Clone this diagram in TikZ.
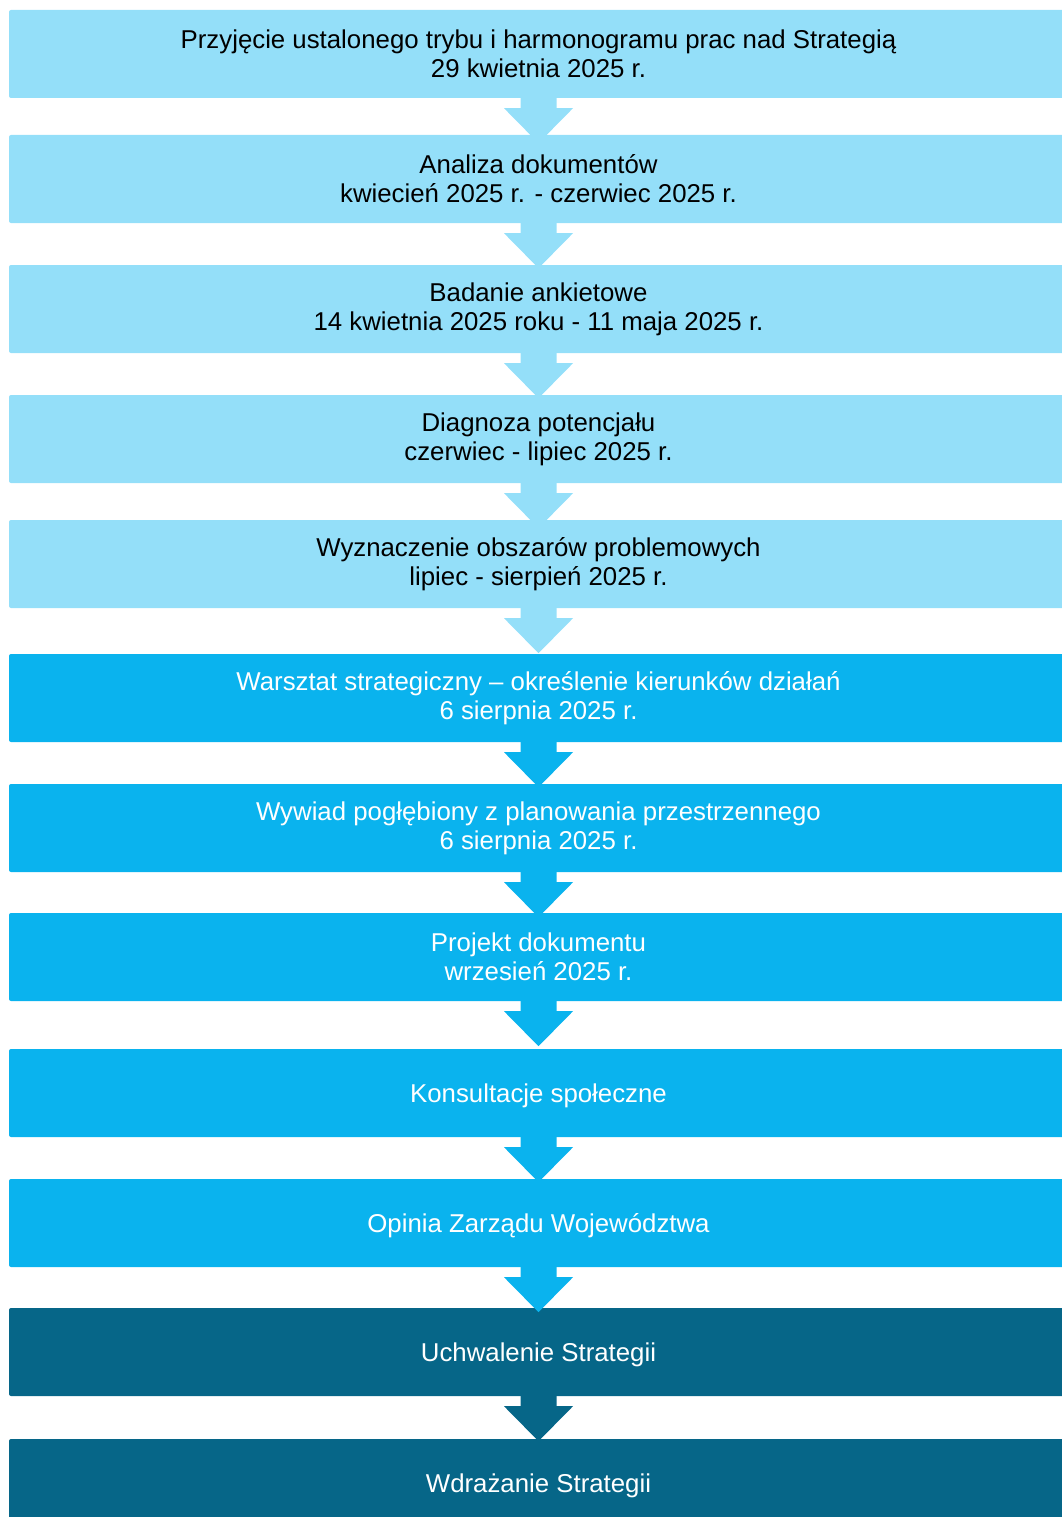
\documentclass[tikz,border=0pt]{standalone}
\usepackage{fontspec}
\setmainfont{Liberation Sans}
\usetikzlibrary{calc}
\definecolor{lightb}{HTML}{94DFF9}
\definecolor{midb}{HTML}{0AB3EE}
\definecolor{darkb}{HTML}{066688}
\tikzset{
  box/.style={minimum width=1059pt, minimum height=88pt, inner sep=0pt, rounded corners=2pt, align=center, font=\fontsize{25.8}{29}\selectfont},
  lbox/.style={box, fill=lightb, text=black},
  mbox/.style={box, fill=midb, text=white},
  dbox/.style={box, fill=darkb, text=white},
}
\newcommand{\lowered}[1]{\raisebox{-3pt}[\height][\depth]{#1}}
\newcommand{\downarr}[2]{%
  \fill[#2] ($(#1.south)+(-18,-3)$) -- ($(#1.south)+(18,-3)$) -- ($(#1.south)+(18,10)$) -- ($(#1.south)+(34.5,10)$) -- ($(#1.south)+(0,45)$) -- ($(#1.south)+(-34.5,10)$) -- ($(#1.south)+(-18,10)$) -- cycle;}
\begin{document}
\begin{tikzpicture}[x=1pt,y=-1pt]
\useasboundingbox (0,0) rectangle (1062,1517);
\clip (0,0) rectangle (1062,1517);
\node[lbox] (b1) at (538.5,54) {Przyjęcie ustalonego trybu i harmonogramu prac nad Strategią\\29 kwietnia 2025 r.};
\node[lbox] (b2) at (538.5,179) {Analiza dokumentów\\kwiecień 2025 r. - czerwiec 2025 r.};
\node[lbox] (b3) at (538.5,309) {Badanie ankietowe\\14 kwietnia 2025 roku - 11 maja 2025 r.};
\node[lbox] (b4) at (538.5,439) {Diagnoza potencjału\\czerwiec - lipiec 2025 r.};
\node[lbox] (b5) at (538.5,564) {Wyznaczenie obszarów problemowych\\lipiec - sierpień 2025 r.};
\node[mbox] (b6) at (538.5,698) {Warsztat strategiczny – określenie kierunków działań\\6 sierpnia 2025 r.};
\node[mbox] (b7) at (538.5,828) {Wywiad pogłębiony z planowania przestrzennego\\6 sierpnia 2025 r.};
\node[mbox] (b8) at (538.5,957) {Projekt dokumentu\\wrzesień 2025 r.};
\node[mbox] (b9) at (538.5,1093) {\lowered{Konsultacje społeczne}};
\node[mbox] (b10) at (538.5,1223) {\lowered{Opinia Zarządu Województwa}};
\node[dbox] (b11) at (538.5,1352) {\lowered{Uchwalenie Strategii}};
\node[dbox] (b12) at (538.5,1483) {\lowered{Wdrażanie Strategii}};
\downarr{b1}{lightb}
\downarr{b2}{lightb}
\downarr{b3}{lightb}
\downarr{b4}{lightb}
\downarr{b5}{lightb}
\downarr{b6}{midb}
\downarr{b7}{midb}
\downarr{b8}{midb}
\downarr{b9}{midb}
\downarr{b10}{midb}
\downarr{b11}{darkb}
\end{tikzpicture}
\end{document}
